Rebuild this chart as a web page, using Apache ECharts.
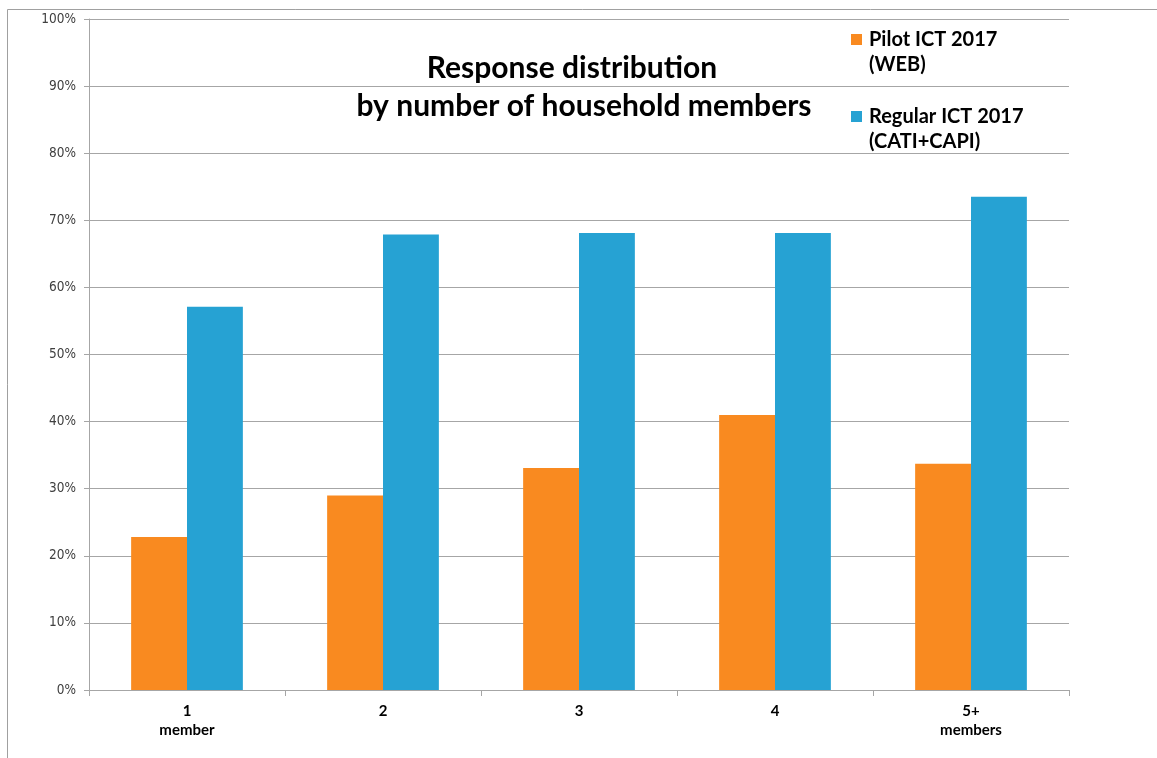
<!DOCTYPE html>
<html>
<head>
<meta charset="utf-8">
<script src="https://cdn.jsdelivr.net/npm/echarts@6/dist/echarts.min.js"></script>
<style>
  html, body { margin: 0; padding: 0; background: #fff; }
  #chart { width: 1157px; height: 758px; }
</style>
</head>
<body>
<div id="chart"></div>
<script>
// Household size groups on the x axis
const categories = ['1\nmember', '2', '3', '4', '5+\nmembers'];
// Share of responses, in percent
const pilotWeb = [22.8, 29.0, 33.1, 41.0, 33.7];
const regularCatiCapi = [57.1, 67.9, 68.1, 68.1, 73.5];
const seriesNames = ['Pilot ICT 2017\n(WEB)', 'Regular ICT 2017\n(CATI+CAPI)'];
const titleLines = ['Response distribution', 'by number of household members'];

const ORANGE = '#F98A20';
const BLUE = '#26A2D3';
const GRID = '#A6A6A6';

const titleFont = {
  fontFamily: 'Lato',
  fontWeight: 'bold',
  fontSize: 30,
  color: '#000'
};

const chart = echarts.init(document.getElementById('chart'), null, { renderer: 'canvas' });

chart.setOption({
  animation: false,
  backgroundColor: '#fff',
  title: [
    { text: titleLines[0], left: 572, top: 53, textAlign: 'center', padding: 0, textStyle: titleFont },
    { text: titleLines[1], left: 584, top: 91, textAlign: 'center', padding: 0, textStyle: titleFont }
  ],
  legend: {
    orient: 'vertical',
    left: 851,
    top: 2,
    padding: 0,
    itemWidth: 11,
    itemHeight: 11,
    itemGap: 2,
    icon: 'rect',
    data: seriesNames,
    // a blank first line keeps the marker level with the first text line
    formatter: name => ' \n' + name,
    textStyle: {
      fontFamily: 'Lato',
      fontWeight: 'bold',
      fontSize: 20,
      lineHeight: 25,
      color: '#000',
      padding: [0, 0, 0, 2]
    },
    itemStyle: { borderWidth: 0 }
  },
  graphic: [{
    type: 'rect',
    shape: { x: 7.5, y: 9.5, width: 1300, height: 900 },
    style: { fill: 'none', stroke: '#A0A0A0', lineWidth: 1 },
    silent: true,
    z: -10
  }],
  grid: {
    left: 89,
    right: 88,
    top: 19,
    bottom: 68,
    containLabel: false
  },
  xAxis: {
    type: 'category',
    data: categories,
    axisLine: { show: true, lineStyle: { color: GRID, width: 1 } },
    axisTick: { show: true, length: 6, alignWithLabel: false, lineStyle: { color: GRID } },
    axisLabel: {
      fontFamily: 'Lato',
      fontWeight: 'bold',
      fontSize: 15,
      lineHeight: 19,
      color: '#000',
      margin: 12,
      interval: 0
    }
  },
  yAxis: {
    type: 'value',
    min: 0,
    max: 100,
    interval: 10,
    axisLine: { show: true, lineStyle: { color: GRID, width: 1 } },
    axisTick: { show: true, length: 5, lineStyle: { color: GRID } },
    axisLabel: {
      formatter: '{value}%',
      fontFamily: 'DejaVu Sans Condensed',
      fontSize: 13.5,
      color: '#404040',
      margin: 13
    },
    splitLine: { show: true, lineStyle: { color: GRID, width: 1 } }
  },
  series: [
    {
      name: seriesNames[0],
      type: 'bar',
      data: pilotWeb,
      barGap: '0%',
      barCategoryGap: '43%',
      itemStyle: { color: ORANGE }
    },
    {
      name: seriesNames[1],
      type: 'bar',
      data: regularCatiCapi,
      barGap: '0%',
      barCategoryGap: '43%',
      itemStyle: { color: BLUE }
    }
  ]
});
</script>
</body>
</html>
